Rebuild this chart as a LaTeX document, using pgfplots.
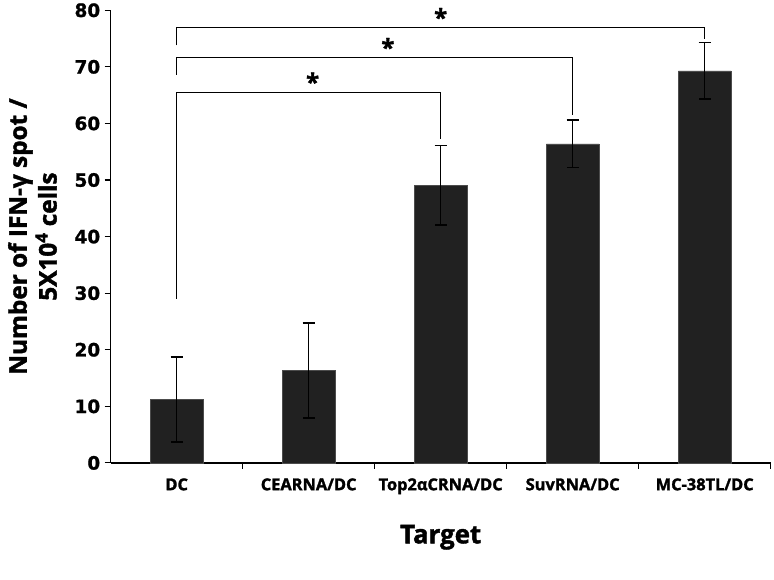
\documentclass[border=0pt]{standalone}
\usepackage{pgfplots}
\pgfplotsset{compat=1.18}
\usepackage{fontspec}
\setmainfont{Open Sans}[BoldFeatures={FakeBold=1.6}]
\newfontfamily\tickfont{DejaVu Sans}[BoldFeatures={FakeBold=1.2}]
\begin{document}
\begin{tikzpicture}[x=1bp,y=1bp]
\path (-111,-117) rectangle (663,462);
\begin{axis}[
  at={(0,0)}, anchor=south west,
  scale only axis, width=662bp, height=454bp,
  xmin=-0.5, xmax=4.5, ymin=0, ymax=80,
  axis x line=bottom, axis y line=left,
  axis line style={-, line width=1.2pt},
  ytick={0,10,...,80},
  yticklabel style={font=\tickfont\bfseries\fontsize{18.5}{18.5}\selectfont, xshift=-1bp},
  tick align=outside, major tick length=6bp,
  tick style={line width=1.1pt, black},
  xtick={0.5,1.5,2.5,3.5,4.5},
  xticklabels={},
  extra x ticks={0,1,2,3,4},
  extra x tick labels={DC,CEARNA/DC,Top2αCRNA/DC,SuvRNA/DC,MC-38TL/DC},
  extra x tick style={major tick length=0pt,
    x tick label style={font=\bfseries\fontsize{16.5}{16.5}\selectfont, yshift=-12bp}},
  xlabel={Target},
  xlabel style={font=\bfseries\fontsize{26}{26}\selectfont, yshift=-18bp},
  ylabel={Number of IFN-γ spot /\\5X10\textsuperscript{4} cells},
  ylabel style={align=center, font=\bfseries\fontsize{24.5}{30}\selectfont},
  ylabel shift=11bp,
  /pgf/number format/assume math mode=true,
  clip=false,
]
\addplot[ybar, bar width=0.4, fill=black!87, draw=black!70,
  error bars/.cd, y dir=both, y explicit,
  error bar style={line width=1.5pt, black},
  error mark options={rotate=90, mark size=6bp, line width=1.7pt, black}]
  table[x=x, y=y, y error=e] {
x y e
0 11.2 7.5
1 16.3 8.4
2 49.1 7.0
3 56.4 4.2
4 69.3 5.0
};
\addplot[black, line width=1.2pt, sharp plot, mark=none] coordinates {(0,29) (0,65.5) (2,65.5) (2,57.3)};
\addplot[black, line width=1.2pt, sharp plot, mark=none] coordinates {(0,68.6) (0,71.6) (3,71.6) (3,61.4)};
\addplot[black, line width=1.2pt, sharp plot, mark=none] coordinates {(0,73.8) (0,76.9) (4,76.9) (4,75)};
\node[font=\bfseries\fontsize{24}{24}\selectfont] at (axis cs:1.03,67.4) {*};
\node[font=\bfseries\fontsize{24}{24}\selectfont] at (axis cs:1.6,73.5) {*};
\node[font=\bfseries\fontsize{24}{24}\selectfont] at (axis cs:2.0,78.8) {*};
\end{axis}
\end{tikzpicture}
\end{document}
